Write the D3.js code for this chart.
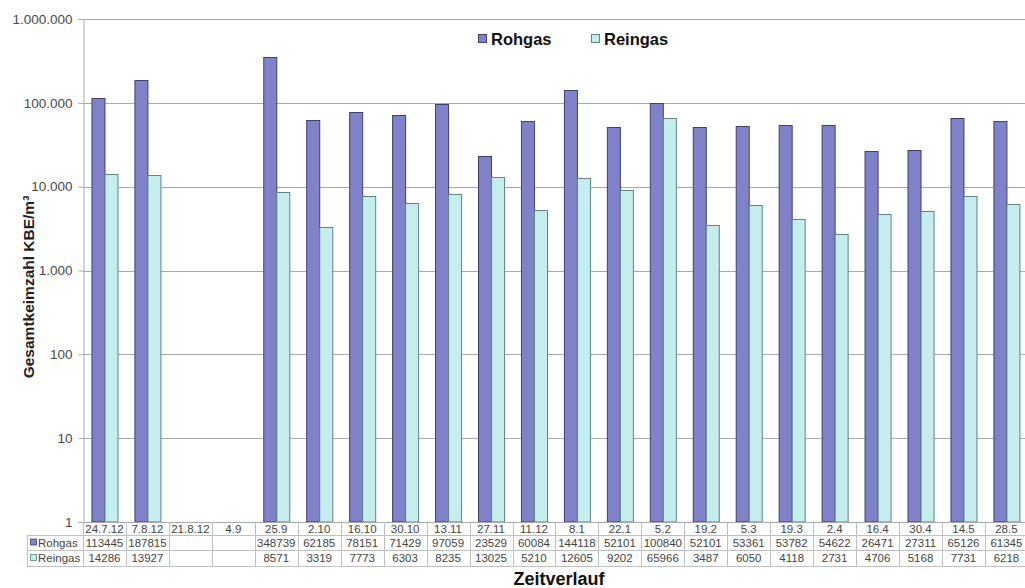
<!DOCTYPE html>
<html>
<head>
<meta charset="utf-8">
<script src="https://cdn.jsdelivr.net/npm/d3@7"></script>
<style>
  html, body { margin: 0; padding: 0; background: #fff; }
  svg { display: block; font-family: "Liberation Sans", Arial, sans-serif; }
</style>
</head>
<body>
<svg id="chart" width="1025" height="588"></svg>
<script>
// Sampling dates (x categories)
const categories = ["24.7.12", "7.8.12", "21.8.12", "4.9", "25.9", "2.10", "16.10", "30.10",
  "13.11", "27.11", "11.12", "8.1", "22.1", "5.2", "19.2", "5.3", "19.3", "2.4", "16.4",
  "30.4", "14.5", "28.5"];

// Total germ count, KBE/m³ (null = no measurement)
const rohgas = [113445, 187815, null, null, 348739, 62185, 78151, 71429, 97059, 23529,
  60084, 144118, 52101, 100840, 52101, 53361, 53782, 54622, 26471, 27311, 65126, 61345];
const reingas = [14286, 13927, null, null, 8571, 3319, 7773, 6303, 8235, 13025,
  5210, 12605, 9202, 65966, 3487, 6050, 4118, 2731, 4706, 5168, 7731, 6218];

const seriesNames = ["Rohgas", "Reingas"];
const yTicks = [1, 10, 100, 1000, 10000, 100000, 1000000];

const fills = { Rohgas: "#7f82c9", Reingas: "#c6eded" };
const strokes = { Rohgas: "#3f4070", Reingas: "#5d8585" };

const svg = d3.select("#chart");
const plotLeft = 83, plotTop = 19, plotBottom = 522, step = 42.95;
const plotRight = plotLeft + step * categories.length;

const de = d3.formatLocale({ decimal: ",", thousands: ".", grouping: [3], currency: ["", ""] });
const fmt = de.format(",");

const x0 = d3.scaleBand().domain(categories).range([plotLeft, plotRight]).padding(0);
const x1 = d3.scaleBand().domain(seriesNames).range([0, x0.bandwidth()])
  .paddingInner(0).paddingOuter(0.65);
const y = d3.scaleLog().domain([1, 1000000]).range([plotBottom, plotTop]);

// Horizontal gridlines
svg.append("g").selectAll("line").data(yTicks.slice(1)).join("line")
  .attr("x1", plotLeft).attr("x2", plotRight)
  .attr("y1", d => Math.round(y(d)) + 0.5).attr("y2", d => Math.round(y(d)) + 0.5)
  .attr("stroke", "#a9a9a9").attr("stroke-width", 1);

// Y axis
const yAxis = d3.axisLeft(y).tickValues(yTicks).tickFormat(fmt).tickSizeOuter(0).tickSize(5).tickPadding(6);
const gy = svg.append("g").attr("transform", `translate(${plotLeft + 0.5},0)`).call(yAxis);
gy.select(".domain").attr("stroke", "#a9a9a9");
gy.selectAll(".tick line").attr("stroke", "#a9a9a9");
gy.selectAll(".tick text").attr("fill", "#4a4a4a").attr("font-size", "13.5px")
  .attr("font-family", "'Liberation Sans', Arial, sans-serif");

// Bars
const rows = categories.map((c, i) => ({ cat: c, Rohgas: rohgas[i], Reingas: reingas[i] }));
const groups = svg.append("g").selectAll("g").data(rows).join("g")
  .attr("transform", d => `translate(${x0(d.cat)},0)`);
groups.selectAll("rect")
  .data(d => seriesNames.filter(s => d[s] != null).map(s => ({ s, v: d[s] })))
  .join("rect")
  .attr("x", d => x1(d.s) + 0.5)
  .attr("width", x1.bandwidth())
  .attr("y", d => Math.round(y(d.v)) + 0.5)
  .attr("height", d => plotBottom - Math.round(y(d.v)) - 0.5)
  .attr("fill", d => fills[d.s])
  .attr("stroke", d => strokes[d.s])
  .attr("stroke-width", 1);

// Data table below the plot
const tableLeft = 27;
const rowY = [522, 535, 550, 566];
const grid = "#c0c0c0";
const tg = svg.append("g");

// Row separators
tg.append("line").attr("x1", plotLeft).attr("x2", plotRight).attr("y1", rowY[0] + 0.5).attr("y2", rowY[0] + 0.5).attr("stroke", "#a9a9a9");
[rowY[1], rowY[2], rowY[3]].forEach(yy => {
  tg.append("line").attr("x1", tableLeft).attr("x2", plotRight)
    .attr("y1", yy + 0.5).attr("y2", yy + 0.5).attr("stroke", grid);
});
// Column separators
tg.append("line").attr("x1", tableLeft + 0.5).attr("x2", tableLeft + 0.5)
  .attr("y1", rowY[1]).attr("y2", rowY[3]).attr("stroke", grid);
categories.forEach(c => {
  const xx = Math.round(x0(c)) + 0.5;
  tg.append("line").attr("x1", xx).attr("x2", xx).attr("y1", rowY[0]).attr("y2", rowY[3]).attr("stroke", grid);
});

// Category labels
tg.selectAll("text.cat").data(categories).join("text").attr("class", "cat")
  .attr("x", d => x0(d) + x0.bandwidth() / 2).attr("y", (rowY[0] + rowY[1]) / 2 + 4)
  .attr("text-anchor", "middle").attr("font-size", "11.5px").attr("fill", "#444")
  .text(d => d);

// Series rows
const seriesVals = { Rohgas: rohgas, Reingas: reingas };
seriesNames.forEach((s, k) => {
  const cy = (rowY[k + 1] + rowY[k + 2]) / 2;
  tg.append("rect").attr("x", tableLeft + 3.5).attr("y", cy - 3.5).attr("width", 6).attr("height", 6)
    .attr("fill", fills[s]).attr("stroke", strokes[s]).attr("stroke-width", 0.8);
  tg.append("text").attr("x", tableLeft + 11).attr("y", cy + 4)
    .attr("font-size", "11.5px").attr("fill", "#444").text(s);
  tg.selectAll(`text.v${k}`).data(categories).join("text").attr("class", `v${k}`)
    .attr("x", d => x0(d) + x0.bandwidth() / 2).attr("y", cy + 4)
    .attr("text-anchor", "middle").attr("font-size", "11.5px").attr("fill", "#444")
    .text((d, i) => seriesVals[s][i] == null ? "" : seriesVals[s][i]);
});

// Legend
const legend = [{ s: "Rohgas", x: 478 }, { s: "Reingas", x: 591 }];
const lg = svg.append("g").selectAll("g").data(legend).join("g")
  .attr("transform", d => `translate(${d.x},34)`);
lg.append("rect").attr("x", 0.5).attr("y", 0.5).attr("width", 8).attr("height", 8)
  .attr("fill", d => fills[d.s]).attr("stroke", d => strokes[d.s]);
lg.append("text").attr("x", 13).attr("y", 10.5).attr("font-size", "16.5px")
  .attr("font-weight", "bold").attr("fill", "#111").text(d => d.s);

// Axis titles
svg.append("text").attr("transform", "translate(34,287) rotate(-90)")
  .attr("text-anchor", "middle").attr("font-size", "15.5px").attr("font-weight", "bold")
  .attr("fill", "#222").text("Gesamtkeimzahl KBE/m³");
svg.append("text").attr("x", 559).attr("y", 585)
  .attr("text-anchor", "middle").attr("font-size", "18px").attr("font-weight", "bold")
  .attr("fill", "#111").text("Zeitverlauf");
</script>
</body>
</html>
